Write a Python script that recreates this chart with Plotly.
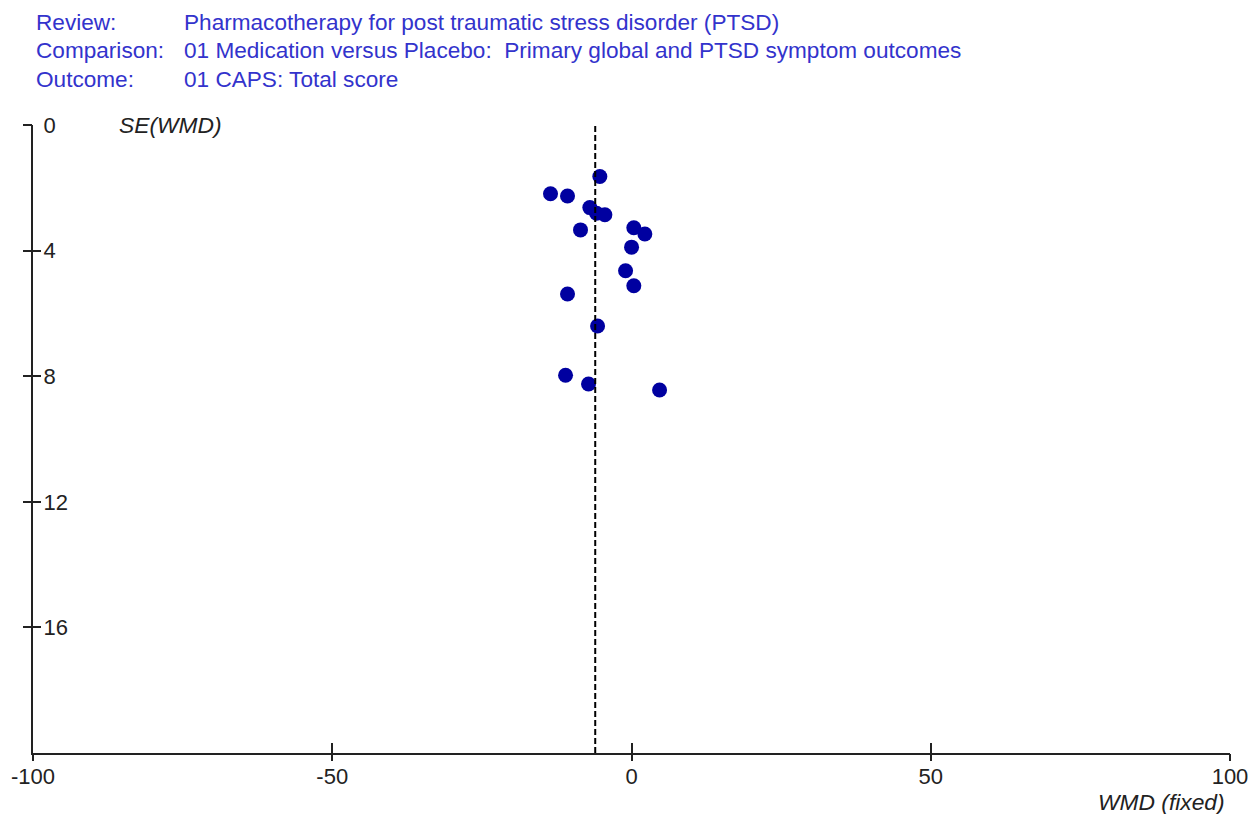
import plotly.graph_objects as go

# Study estimates: weighted mean difference and its standard error
wmd = [-5.29, -13.53, -10.69, -6.96, -5.84, -4.45, -8.52, 0.39, 2.23, 0.01,
       -0.99, 0.39, -10.69, -5.67, -11.02, -7.18, 4.69]
se = [1.64, 2.19, 2.26, 2.63, 2.81, 2.86, 3.34, 3.27, 3.47, 3.89,
      4.64, 5.12, 5.38, 6.40, 7.97, 8.25, 8.44]
pooled_wmd = -6.06

x_ticks = [-100, -50, 0, 50, 100]
x_tick_text = ["-100", "-50", "0", "50", "100"]
y_ticks = [0, 4, 8, 12, 16]
y_tick_text = ["0", "4", "8", "12", "16"]
x_range = [-100, 100]
y_range = [20, 0]

header_labels = ["Review:", "Comparison:", "Outcome:"]
header_values = ["Pharmacotherapy for post traumatic stress disorder (PTSD)",
                 "01 Medication versus Placebo:  Primary global and PTSD symptom outcomes",
                 "01 CAPS: Total score"]

FONT = "Arial, Liberation Sans, sans-serif"
BLUE = "#3333cc"
AXC = "#222222"

fig = go.Figure()
fig.add_trace(go.Scatter(x=wmd, y=se, mode="markers",
                         marker=dict(color="#0000a0", size=15, line=dict(width=0)),
                         hoverinfo="x+y", showlegend=False))
# invisible copy to anchor the overlay axes (used for crossing ticks)
fig.add_trace(go.Scatter(x=wmd, y=se, mode="markers", xaxis="x2", yaxis="y2",
                         marker=dict(opacity=0), hoverinfo="skip", showlegend=False))

fig.add_vline(x=pooled_wmd, line=dict(color="black", width=2, dash="6px,3px"))

fig.update_layout(
    width=1260, height=814,
    margin=dict(l=33, r=30, t=125, b=61, autoexpand=False),
    paper_bgcolor="white", plot_bgcolor="white",
    font=dict(family=FONT, size=22, color=AXC),
    xaxis=dict(range=x_range, tickvals=x_ticks, ticktext=x_tick_text,
               ticks="inside", ticklen=10,
               tickwidth=1.5, tickcolor=AXC, showline=True, linecolor=AXC,
               linewidth=2, showgrid=False, zeroline=False,
               ticklabeloverflow="allow", automargin=False,
               ticklabelstandoff=3, tickfont=dict(size=22, color=AXC)),
    yaxis=dict(range=y_range, tickvals=y_ticks, ticktext=y_tick_text,
               ticks="", showline=True, linecolor=AXC,
               linewidth=2, showgrid=False, zeroline=False,
               ticklabeloverflow="allow", automargin=False,
               ticklabelstandoff=12,
               ticklabelposition="inside", tickfont=dict(size=22, color=AXC)),
    xaxis2=dict(range=x_range, tickvals=x_ticks, ticks="outside", ticklen=7,
                tickwidth=1.5, tickcolor=AXC, overlaying="x", side="bottom",
                showticklabels=False, showgrid=False, zeroline=False, showline=False),
    yaxis2=dict(range=y_range, tickvals=y_ticks, ticks="outside", ticklen=9,
                tickwidth=1.5, tickcolor=AXC, overlaying="y", side="left",
                showticklabels=False, showgrid=False, zeroline=False, showline=False),
    yaxis3=dict(range=y_range, tickvals=y_ticks, ticks="inside", ticklen=8,
                tickwidth=1.5, tickcolor=AXC, overlaying="y", side="left",
                showticklabels=False, showgrid=False, zeroline=False, showline=False),
)
fig.add_trace(go.Scatter(x=wmd, y=se, mode="markers", yaxis="y3",
                         marker=dict(opacity=0), hoverinfo="skip", showlegend=False))

ys = [1.1637, 1.118, 1.073]
for lab, val, yy in zip(header_labels, header_values, ys):
    fig.add_annotation(text=lab, xref="paper", yref="paper", x=0.0006, y=yy,
                       xanchor="left", yanchor="middle", showarrow=False,
                       font=dict(family=FONT, size=22.6, color=BLUE))
    fig.add_annotation(text=val, xref="paper", yref="paper", x=0.1243, y=yy,
                       xanchor="left", yanchor="middle", showarrow=False,
                       font=dict(family=FONT, size=22.6, color=BLUE))

fig.add_annotation(text="<i>SE(WMD)</i>", xref="paper", yref="paper", x=0.0698, y=1.0,
                   xanchor="left", yanchor="middle", showarrow=False,
                   font=dict(family=FONT, size=22.8, color=AXC))
fig.add_annotation(text="<i>WMD (fixed)</i>", xref="paper", yref="paper", x=0.9975, y=-0.0775,
                   xanchor="right", yanchor="middle", showarrow=False,
                   font=dict(family=FONT, size=22.8, color=AXC))

fig.write_html("out.html", config={"displayModeBar": False},
               post_script="document.body.style.margin='0';document.body.style.overflow='hidden';")
